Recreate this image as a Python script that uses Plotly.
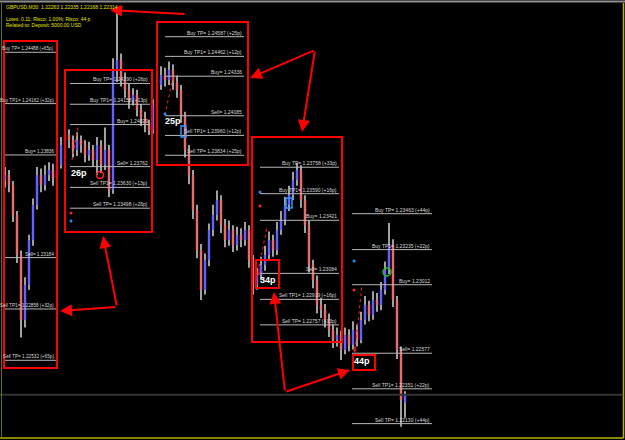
import plotly.graph_objects as go

# ---------------- data ----------------
bar_index = list(range(101))
opens = [1.23680, 1.23709, 1.23645, 1.23455, 1.23201, 1.22788, 1.23011, 1.23296, 1.23518, 1.23709,
         1.23645, 1.23709, 1.23741, 1.23690, 1.23772, 1.23899, 1.23963, 1.23931, 1.23868, 1.23931,
         1.23899, 1.23836, 1.23868, 1.23804, 1.23899, 1.23772, 1.23868, 1.23614, 1.24376, 1.24439,
         1.24312, 1.24249, 1.24185, 1.24217, 1.24122, 1.24071, 1.24026, 1.23995, 1.24153, 1.24280,
         1.24344, 1.24312, 1.24376, 1.24299, 1.24249, 1.24090, 1.23868, 1.23709, 1.23487, 1.23233,
         1.22979, 1.23169, 1.23360, 1.23455, 1.23550, 1.23391, 1.23296, 1.23360, 1.23264, 1.23328,
         1.23296, 1.23360, 1.23169, 1.23011, 1.23074, 1.23138, 1.23201, 1.23296, 1.23233, 1.23360,
         1.23423, 1.23518, 1.23582, 1.23677, 1.23741, 1.23550, 1.23391, 1.23138, 1.23042, 1.22884,
         1.22852, 1.22788, 1.22725, 1.22661, 1.22693, 1.22598, 1.22693, 1.22630, 1.22725, 1.22661,
         1.22788, 1.22884, 1.22820, 1.22915, 1.22884, 1.22979, 1.23106, 1.23264, 1.22915, 1.22598,
         1.22263]
highs = [1.23760, 1.23740, 1.23670, 1.23480, 1.23230, 1.23060, 1.23330, 1.23560, 1.23760, 1.23750,
         1.23770, 1.23790, 1.23780, 1.23820, 1.23950, 1.24010, 1.24000, 1.23960, 1.23980, 1.23960,
         1.23930, 1.23920, 1.23900, 1.23950, 1.23930, 1.24010, 1.23900, 1.24450, 1.24757, 1.24480,
         1.24360, 1.24290, 1.24260, 1.24250, 1.24160, 1.24110, 1.24060, 1.24190, 1.24330, 1.24400,
         1.24390, 1.24430, 1.24410, 1.24340, 1.24280, 1.24110, 1.23900, 1.23740, 1.23520, 1.23270,
         1.23210, 1.23400, 1.23520, 1.23610, 1.23580, 1.23430, 1.23420, 1.23390, 1.23380, 1.23370,
         1.23410, 1.23390, 1.23200, 1.23120, 1.23190, 1.23260, 1.23350, 1.23330, 1.23410, 1.23480,
         1.23570, 1.23640, 1.23730, 1.23785, 1.23770, 1.23580, 1.23420, 1.23170, 1.23070, 1.22930,
         1.22890, 1.22830, 1.22760, 1.22740, 1.22720, 1.22740, 1.22730, 1.22780, 1.22760, 1.22840,
         1.22940, 1.22910, 1.22970, 1.22960, 1.23030, 1.23160, 1.23404, 1.23300, 1.22940, 1.22620,
         1.22335]
lows = [1.23630, 1.23600, 1.23410, 1.23150, 1.22677, 1.22740, 1.22980, 1.23260, 1.23490, 1.23600,
        1.23610, 1.23670, 1.23640, 1.23660, 1.23750, 1.23870, 1.23880, 1.23820, 1.23830, 1.23850,
        1.23790, 1.23800, 1.23760, 1.23709, 1.23720, 1.23740, 1.23569, 1.23590, 1.24300, 1.24270,
        1.24200, 1.24130, 1.24150, 1.24080, 1.24020, 1.23980, 1.23963, 1.23970, 1.24120, 1.24250,
        1.24270, 1.24280, 1.24250, 1.24200, 1.24040, 1.23820, 1.23650, 1.23430, 1.23180, 1.22915,
        1.22950, 1.23130, 1.23320, 1.23420, 1.23340, 1.23250, 1.23260, 1.23220, 1.23230, 1.23250,
        1.23260, 1.23120, 1.22950, 1.22980, 1.23040, 1.23100, 1.23170, 1.23190, 1.23200, 1.23330,
        1.23390, 1.23480, 1.23550, 1.23640, 1.23500, 1.23340, 1.23090, 1.22990, 1.22830, 1.22800,
        1.22740, 1.22680, 1.22610, 1.22620, 1.22534, 1.22570, 1.22590, 1.22600, 1.22620, 1.22640,
        1.22760, 1.22780, 1.22790, 1.22840, 1.22850, 1.22950, 1.23080, 1.22870, 1.22540, 1.22110,
        1.22168]
closes = [1.23709, 1.23645, 1.23455, 1.23201, 1.22788, 1.23011, 1.23296, 1.23518, 1.23709, 1.23645,
          1.23709, 1.23741, 1.23690, 1.23772, 1.23899, 1.23963, 1.23931, 1.23868, 1.23931, 1.23899,
          1.23836, 1.23868, 1.23804, 1.23899, 1.23772, 1.23868, 1.23614, 1.24376, 1.24439, 1.24312,
          1.24249, 1.24185, 1.24217, 1.24122, 1.24071, 1.24026, 1.23995, 1.24153, 1.24280, 1.24344,
          1.24312, 1.24376, 1.24299, 1.24249, 1.24090, 1.23868, 1.23709, 1.23487, 1.23233, 1.22979,
          1.23169, 1.23360, 1.23455, 1.23550, 1.23391, 1.23296, 1.23360, 1.23264, 1.23328, 1.23296,
          1.23360, 1.23169, 1.23011, 1.23074, 1.23138, 1.23201, 1.23296, 1.23233, 1.23360, 1.23423,
          1.23518, 1.23582, 1.23677, 1.23741, 1.23550, 1.23391, 1.23138, 1.23042, 1.22884, 1.22852,
          1.22788, 1.22725, 1.22661, 1.22693, 1.22598, 1.22693, 1.22630, 1.22725, 1.22661, 1.22788,
          1.22884, 1.22820, 1.22915, 1.22884, 1.22979, 1.23106, 1.23264, 1.22915, 1.22598, 1.22280,
          1.22314]

level_names = ["Buy TP", "Buy TP1", "Buy", "Sell", "Sell TP1", "Sell TP"]
g1_prices = [1.24488, 1.24162, 1.23836, 1.23184, 1.22858, 1.22532]
g1_pips = ["+65p", "+32p", "", "", "+32p", "+65p"]
g2_prices = [1.24290, 1.24158, 1.24029, 1.23762, 1.23630, 1.23498]
g2_pips = ["+26p", "+13p", "", "", "+13p", "+26p"]
g3_prices = [1.24587, 1.24462, 1.24336, 1.24085, 1.23960, 1.23834]
g3_pips = ["+25p", "+12p", "", "", "+12p", "+25p"]
g4_prices = [1.23758, 1.23590, 1.23421, 1.23084, 1.22919, 1.22757]
g4_pips = ["+33p", "+16p", "", "", "+16p", "+33p"]
g5_prices = [1.23463, 1.23235, 1.23012, 1.22577, 1.22351, 1.22130]
g5_pips = ["+44p", "+22p", "", "", "+22p", "+44p"]

result_labels = ["26p", "25p", "34p", "44p"]

header_symbol = "GBPUSD,M30"
header_lines = ["Lotes: 0.11; Risco: 1.00%; Risco: 44 p",
                "Related to: Deposit: 5000.00 USD"]

# ---------------- figure ----------------
W, H = 625, 440
YTOP, YBOT = 1.24820, 1.22026


def X(px):  # screen pixel -> bar axis
    return px / 4.0 - 1.25


def Y(py):  # screen pixel -> price axis
    return YTOP - (YTOP - YBOT) * py / H


fig = go.Figure()

# wicks
fig.add_trace(go.Bar(
    x=bar_index, y=[h - l for h, l in zip(highs, lows)], base=lows,
    width=0.25, marker=dict(color="#a0a0a0", line=dict(width=0)),
    hoverinfo="skip", showlegend=False))
# bodies
body_base = [min(o, c) for o, c in zip(opens, closes)]
body_len = [max(abs(c - o), 0.00003) for o, c in zip(opens, closes)]
body_col = ["#6262ff" if c >= o else "#ea6c6c" for o, c in zip(opens, closes)]
fig.add_trace(go.Bar(
    x=bar_index, y=body_len, base=body_base, width=0.6,
    marker=dict(color=body_col, line=dict(width=0)),
    hoverinfo="skip", showlegend=False))

shapes = []
annotations = []

# bid line
shapes.append(dict(type="line", xref="x", yref="y", x0=X(0), x1=X(622),
                   y0=closes[-1], y1=closes[-1], line=dict(color="#333333", width=2)))

# level groups (prices, pips, line start px, line end px, label font size)
groups = [(g1_prices, g1_pips, 3, 56, 4.7), (g2_prices, g2_pips, 70, 150, 5),
          (g3_prices, g3_pips, 165, 244, 5), (g4_prices, g4_pips, 260, 339, 5),
          (g5_prices, g5_pips, 352, 432, 5)]
for prices, pips, p0, p1, fs in groups:
    for name, pr, pp in zip(level_names, prices, pips):
        shapes.append(dict(type="line", xref="x", yref="y", x0=X(p0), x1=X(p1),
                           y0=pr, y1=pr, line=dict(color="#b8b8b8", width=1)))
        txt = f"{name}= {pr:.5f}" + (f" ({pp})" if pp else "")
        annotations.append(dict(x=X(p1 - 0.5), y=pr, xref="x", yref="y", text=txt,
                                showarrow=False, xanchor="right", yanchor="bottom",
                                yshift=-1, font=dict(family="Liberation Sans", size=fs, color="#d8d8d8")))

# red boxes
for (x0, y0, x1, y1) in [(4, 41, 57, 368), (65, 70, 152, 232), (157, 22, 248, 165),
                         (252, 137, 342, 342), (256, 260, 279, 288), (353, 355, 375, 370)]:
    shapes.append(dict(type="rect", xref="x", yref="y", x0=X(x0), x1=X(x1), y0=Y(y0), y1=Y(y1),
                       line=dict(color="#ff0000", width=2)))

# dotted entry lines
for (x0, y0, x1, y1) in [(72, 160, 78, 127), (165, 115, 173, 77), (259, 267, 267, 227), (355, 350, 362, 285)]:
    shapes.append(dict(type="line", xref="x", yref="y", x0=X(x0), x1=X(x1), y0=Y(y0), y1=Y(y1),
                       line=dict(color="#ff2020", width=1, dash="dot")))

# small dots
for (cx, cy, col) in [(71, 213, "#ff2020"), (71, 221, "#1e90ff"), (260, 192, "#1e90ff"),
                      (260, 206, "#ff2020"), (354, 261, "#1e90ff"), (354, 290, "#ff2020"),
                      (165, 114, "#1e90ff")]:
    shapes.append(dict(type="circle", xref="x", yref="y", x0=X(cx - 1.5), x1=X(cx + 1.5),
                       y0=Y(cy - 1.5), y1=Y(cy + 1.5), fillcolor=col, line=dict(width=0)))

# circles
shapes.append(dict(type="circle", xref="x", yref="y", x0=X(96.5), x1=X(103.5), y0=Y(171.5), y1=Y(178.5),
                   line=dict(color="#ff2020", width=1.5)))
shapes.append(dict(type="circle", xref="x", yref="y", x0=X(383), x1=X(391), y0=Y(268), y1=Y(276),
                   line=dict(color="#20c020", width=1.5)))

# small blue glyphs
for (x0, y0, x1, y1) in [(181, 126, 186, 137), (286, 198, 292, 208)]:
    shapes.append(dict(type="rect", xref="x", yref="y", x0=X(x0), x1=X(x1), y0=Y(y0), y1=Y(y1),
                       line=dict(color="#3399ff", width=1.5)))

# borders
shapes.append(dict(type="line", xref="paper", yref="paper", x0=0, x1=1, y0=1 - 1.5 / H, y1=1 - 1.5 / H,
                   line=dict(color="#909090", width=2)))
shapes.append(dict(type="line", xref="paper", yref="paper", x0=0, x1=623.5 / W, y0=1 - 438 / H, y1=1 - 438 / H,
                   line=dict(color="#b4b400", width=1.5)))
shapes.append(dict(type="line", xref="paper", yref="paper", x0=623.5 / W, x1=623.5 / W, y0=1 - 438 / H, y1=1 - 3 / H,
                   line=dict(color="#b4b400", width=1.5)))
shapes.append(dict(type="line", xref="paper", yref="paper", x0=1.5 / W, x1=1.5 / W, y0=1 - 438 / H, y1=1 - 3 / H,
                   line=dict(color="#6b6b00", width=1)))

# arrows (tail -> head)
for (tx, ty, hx, hy) in [(186, 14, 110, 10), (315, 50, 250, 78), (315, 50, 302, 132),
                         (117, 307, 103, 236), (117, 307, 60, 311), (285, 392, 274, 292),
                         (285, 392, 350, 370)]:
    annotations.append(dict(x=X(hx), y=Y(hy), ax=X(tx), ay=Y(ty), xref="x", yref="y",
                            axref="x", ayref="y", text="", showarrow=True, arrowhead=2,
                            arrowsize=1.2, arrowwidth=2, arrowcolor="#ff0000"))

# red down marks
for (cx, cy) in [(259, 272), (355, 349)]:
    annotations.append(dict(x=X(cx), y=Y(cy), xref="x", yref="y", text="↓", showarrow=False,
                            font=dict(family="DejaVu Sans", size=9, color="#ff2020")))

# result labels
for txt, (cx, cy) in zip(result_labels, [(79, 173), (173, 121), (268, 280), (362, 361)]):
    annotations.append(dict(x=X(cx), y=Y(cy), xref="x", yref="y", text=f"<b>{txt}</b>",
                            showarrow=False, font=dict(family="Liberation Sans", size=9, color="#ffffff")))

# header
header = header_symbol + "  " + " ".join(f"{v:.5f}" for v in (opens[-1], highs[-1], lows[-1], closes[-1]))
for txt, py in zip([header] + header_lines, [7, 19, 25]):
    annotations.append(dict(x=4 / W, y=1 - py / H, xref="paper", yref="paper", text=txt,
                            showarrow=False, xanchor="left", yanchor="middle",
                            font=dict(family="Liberation Sans", size=5, color="#e6e600")))

fig.update_layout(
    width=W, height=H, margin=dict(l=0, r=0, t=0, b=0),
    paper_bgcolor="#000000", plot_bgcolor="#000000",
    barmode="overlay", showlegend=False,
    xaxis=dict(range=[X(0), X(W)], visible=False, fixedrange=True),
    yaxis=dict(range=[YBOT, YTOP], visible=False, fixedrange=True),
    shapes=shapes, annotations=annotations,
)

fig.write_html("out.html", config={"displayModeBar": False},
               post_script="document.body.style.margin='0';document.body.style.padding='0';"
                           "document.body.style.background='#000';document.body.style.overflow='hidden';")
